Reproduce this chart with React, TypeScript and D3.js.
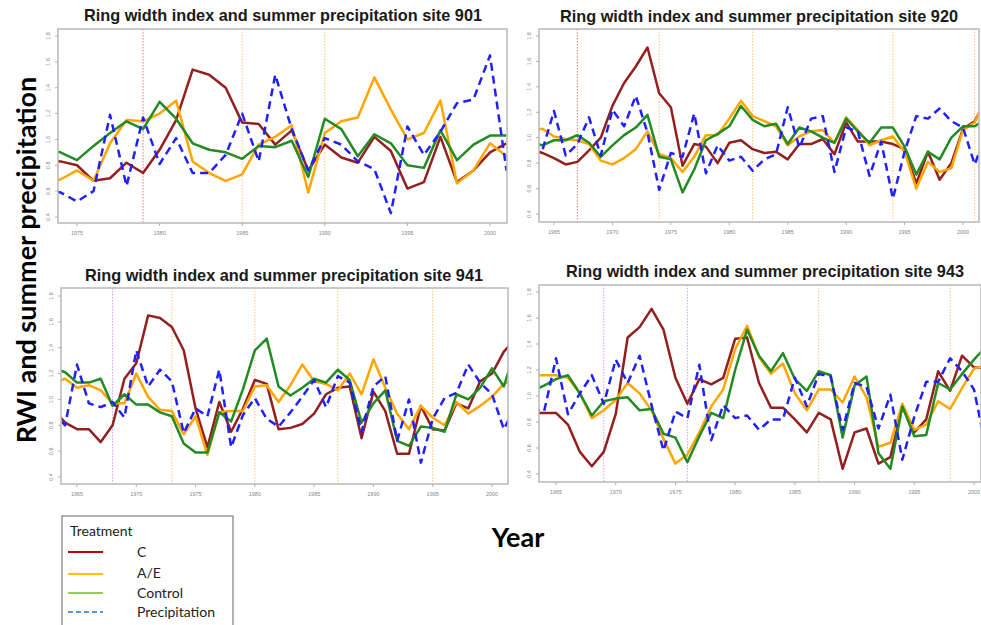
import React from "react";
import * as d3 from "d3";

// ---------- DATA ----------
const years901 = d3.range(1973, 2002);
const c901 = [0.84, 0.83, 0.80, 0.68, 0.70, 0.82, 0.74, 0.92, 1.15, 1.54, 1.50, 1.40, 1.13, 1.12, 0.96, 1.07, 0.76, 0.96, 0.86, 0.82, 1.02, 0.91, 0.62, 0.67, 1.02, 0.67, 0.76, 0.90, 0.97];
const ae901 = [0.67, 0.69, 0.76, 0.68, 0.97, 1.15, 1.14, 1.20, 1.30, 0.83, 0.74, 0.68, 0.73, 0.96, 1.02, 1.11, 0.59, 1.05, 1.14, 1.17, 1.48, 1.23, 1.00, 1.05, 1.30, 0.66, 0.76, 0.97, 0.87];
const ctrl901 = [0.92, 0.90, 0.84, 0.95, 1.05, 1.14, 1.08, 1.29, 1.16, 0.97, 0.92, 0.90, 0.85, 0.95, 0.94, 0.99, 0.71, 1.16, 1.08, 0.87, 1.04, 0.97, 0.80, 0.78, 1.07, 0.84, 0.96, 1.03, 1.03];
const prec901 = [0.62, 0.59, 0.52, 0.60, 1.19, 0.64, 1.17, 0.81, 1.01, 0.74, 0.74, 0.88, 1.20, 0.83, 1.50, 1.08, 0.76, 1.01, 0.96, 0.83, 0.77, 0.43, 1.10, 0.88, 1.06, 1.28, 1.31, 1.65, 0.76];

const years920 = d3.range(1963, 2003);
const c920 = [0.91, 0.88, 0.84, 0.79, 0.81, 0.90, 1.00, 1.25, 1.43, 1.56, 1.71, 1.35, 1.24, 0.78, 0.95, 0.93, 0.80, 0.96, 0.98, 0.91, 0.88, 0.89, 0.83, 0.95, 0.95, 0.99, 0.87, 1.12, 0.97, 0.97, 0.97, 0.95, 0.91, 0.64, 0.89, 0.67, 0.80, 1.07, 1.13, 1.30];
const ae920 = [1.06, 1.07, 1.01, 0.99, 0.98, 0.95, 0.82, 0.79, 0.84, 0.91, 1.05, 0.87, 0.84, 0.73, 0.85, 1.02, 1.02, 1.15, 1.29, 1.17, 1.13, 1.09, 0.94, 1.01, 1.05, 1.06, 0.96, 1.16, 1.06, 0.94, 0.98, 1.01, 0.89, 0.60, 0.81, 0.73, 0.76, 1.06, 1.12, 1.32];
const ctrl920 = [0.97, 0.94, 0.98, 0.98, 1.02, 0.96, 0.85, 0.94, 1.02, 1.08, 1.18, 0.85, 0.83, 0.57, 0.75, 0.98, 1.03, 1.09, 1.25, 1.14, 1.09, 1.11, 0.95, 1.08, 1.05, 1.00, 0.96, 1.15, 1.05, 0.96, 1.08, 1.08, 0.93, 0.71, 0.89, 0.83, 1.00, 1.09, 1.09, 1.15];
const prec920 = [0.90, 0.90, 1.21, 0.86, 0.95, 1.16, 0.86, 1.22, 1.09, 1.33, 1.04, 0.59, 0.88, 0.85, 1.19, 0.72, 0.94, 0.82, 0.85, 0.74, 0.83, 0.87, 1.24, 0.92, 1.15, 1.17, 0.73, 1.08, 1.05, 0.70, 0.97, 0.52, 0.89, 1.17, 1.15, 1.23, 1.13, 1.08, 0.79, 1.03];

const years941 = d3.range(1963, 2003);
const c941 = [0.92, 0.82, 0.77, 0.77, 0.67, 0.80, 1.16, 1.28, 1.65, 1.63, 1.56, 1.38, 0.93, 0.63, 0.98, 0.75, 0.93, 1.15, 1.12, 0.77, 0.78, 0.81, 0.89, 1.04, 1.09, 1.10, 0.70, 1.06, 0.91, 0.58, 0.58, 0.95, 0.77, 0.76, 0.97, 0.93, 1.14, 1.20, 1.37, 1.47];
const ae941 = [1.13, 1.16, 1.09, 1.11, 1.07, 0.97, 0.97, 1.20, 1.02, 0.92, 0.91, 0.73, 0.87, 0.57, 0.90, 0.91, 0.91, 1.10, 1.11, 0.98, 1.11, 1.27, 1.14, 1.12, 1.07, 1.20, 1.04, 1.31, 1.09, 0.89, 0.77, 0.95, 0.86, 0.80, 0.98, 0.89, 0.95, 1.02, 1.12, 1.16];
const ctrl941 = [1.24, 1.21, 1.13, 1.13, 1.16, 0.95, 1.04, 0.96, 0.96, 0.90, 0.87, 0.66, 0.59, 0.59, 0.90, 0.83, 1.08, 1.38, 1.47, 1.10, 1.03, 1.09, 1.16, 1.13, 1.23, 1.15, 0.82, 0.97, 1.07, 0.68, 0.64, 0.79, 0.78, 0.75, 1.04, 1.00, 1.09, 1.24, 1.10, 1.40];
const prec941 = [0.90, 0.80, 1.27, 0.97, 0.94, 0.98, 0.86, 1.38, 1.10, 1.23, 1.14, 0.74, 0.93, 0.87, 1.23, 0.63, 0.88, 1.01, 0.85, 0.79, 0.90, 1.02, 1.15, 0.94, 1.18, 1.13, 0.75, 1.10, 1.18, 0.68, 1.00, 0.51, 0.85, 1.01, 1.05, 1.27, 1.13, 1.04, 0.77, 0.95];

const years943 = d3.range(1963, 2002);
const c943 = [0.87, 0.87, 0.87, 0.78, 0.57, 0.46, 0.57, 0.86, 1.45, 1.53, 1.67, 1.51, 1.14, 0.94, 1.13, 1.09, 1.14, 1.44, 1.45, 1.10, 0.91, 0.91, 0.82, 0.72, 0.87, 0.82, 0.44, 0.72, 0.75, 0.48, 0.53, 0.92, 0.72, 0.82, 1.19, 1.04, 1.31, 1.22, 1.22];
const ae943 = [1.16, 1.16, 1.16, 1.14, 1.02, 0.83, 0.89, 0.97, 1.10, 1.02, 0.89, 0.67, 0.48, 0.55, 0.72, 0.92, 1.05, 1.36, 1.54, 1.30, 1.17, 1.25, 1.02, 0.89, 1.05, 1.05, 0.95, 1.15, 0.99, 0.61, 0.64, 0.94, 0.74, 0.78, 0.96, 0.90, 1.06, 1.21, 1.24];
const ctrl943 = [1.04, 1.08, 1.13, 1.16, 1.02, 0.85, 0.96, 0.98, 0.99, 0.89, 0.90, 0.71, 0.68, 0.49, 0.69, 0.87, 0.83, 1.20, 1.51, 1.31, 1.19, 1.33, 1.13, 1.04, 1.19, 1.16, 0.68, 1.08, 1.15, 0.56, 0.44, 0.92, 0.69, 0.70, 1.10, 1.05, 1.17, 1.28, 1.38];
const prec943 = [0.90, 0.88, 1.29, 0.86, 1.02, 1.16, 0.94, 1.28, 1.10, 1.31, 0.93, 0.58, 0.88, 0.83, 1.24, 0.66, 0.93, 0.83, 0.85, 0.74, 0.82, 0.82, 1.14, 0.92, 1.17, 1.15, 0.74, 1.10, 1.07, 0.75, 1.01, 0.51, 0.84, 1.11, 1.11, 1.29, 1.19, 1.05, 0.60];

const yTicks = [0.4, 0.6, 0.8, 1.0, 1.2, 1.4, 1.6, 1.8];
const xTicks901 = [1975, 1980, 1985, 1990, 1995, 2000];
const xTicksLong = [1965, 1970, 1975, 1980, 1985, 1990, 1995, 2000];

const vlines901 = [{ year: 1979, kind: "red" }, { year: 1985, kind: "orange" }, { year: 1990, kind: "orange" }];
const vlines920 = [{ year: 1967, kind: "red" }, { year: 1974, kind: "orange" }, { year: 1982, kind: "orange" }, { year: 1994, kind: "orange" }, { year: 2001, kind: "orange" }];
const vlines941 = [{ year: 1968, kind: "purple" }, { year: 1973, kind: "orange" }, { year: 1980, kind: "orange" }, { year: 1987, kind: "orange" }, { year: 1995, kind: "orange" }];
const vlines943 = [{ year: 1969, kind: "purple" }, { year: 1976, kind: "purple" }, { year: 1987, kind: "orange" }, { year: 1998, kind: "orange" }];

const legendLabels = ["C", "A/E", "Control", "Precipitation"];

// ---------- STYLE / LAYOUT ----------
const seriesColors = { c: "#931f1f", ae: "#ffa500", ctrl: "#228b22", prec: "#2020ff" };
const legendColors = ["#c00000", "#ffc000", "#92d050", "#5b9bd5"];
const vlineColors: Record<string, string> = { red: "#e07a7a", orange: "#ffc27a", purple: "#d59cff" };

const panels = [
  {
    id: "901", years: years901, c: c901, ae: ae901, ctrl: ctrl901, prec: prec901, xTicks: xTicks901, vlines: vlines901,
    box: { l: 58, r: 507, t: 29, b: 223 }, xRef: [1975, 77, 2000, 490], yRef: [36, 217], title: [283, 21],
  },
  {
    id: "920", years: years920, c: c920, ae: ae920, ctrl: ctrl920, prec: prec920, xTicks: xTicksLong, vlines: vlines920,
    box: { l: 539, r: 979, t: 29, b: 222 }, xRef: [1965, 554, 2000, 963], yRef: [36, 214], title: [759, 22],
  },
  {
    id: "941", years: years941, c: c941, ae: ae941, ctrl: ctrl941, prec: prec941, xTicks: xTicksLong, vlines: vlines941,
    box: { l: 61, r: 508, t: 288, b: 484 }, xRef: [1965, 77, 2000, 492], yRef: [296, 477], title: [284, 281],
  },
  {
    id: "943", years: years943, c: c943, ae: ae943, ctrl: ctrl943, prec: prec943, xTicks: xTicksLong, vlines: vlines943,
    box: { l: 539, r: 981, t: 285, b: 482 }, xRef: [1965, 556, 2000, 974], yRef: [292, 474], title: [765, 277],
  },
];

function Panel({ p }: { p: any }) {
  const x = d3.scaleLinear().domain([p.xRef[0], p.xRef[2]]).range([p.xRef[1], p.xRef[3]]);
  const y = d3.scaleLinear().domain([1.8, 0.4]).range(p.yRef);
  const mk = (vals: number[]) =>
    d3.line<number>().x((_, i) => x(p.years[i])).y((v) => y(v))(vals) || "";
  const clipId = "clip" + p.id;
  const { l, r, t, b } = p.box;
  return (
    <g>
      <defs>
        <clipPath id={clipId}>
          <rect x={l} y={t} width={r - l} height={b - t} />
        </clipPath>
      </defs>
      <text x={p.title[0]} y={p.title[1]} textAnchor="middle" fontFamily="Liberation Sans, Arial, sans-serif" fontWeight="bold" fontSize={16.3} fill="#1a1a1a">
        {"Ring width index and summer precipitation site " + p.id}
      </text>
      <g clipPath={`url(#${clipId})`}>
        {p.vlines.map((v: any, i: number) => (
          <line key={i} x1={x(v.year)} x2={x(v.year)} y1={t} y2={b} stroke={vlineColors[v.kind]} strokeWidth={1} strokeDasharray="1.5,1.5" />
        ))}
        <path d={mk(p.c)} fill="none" stroke={seriesColors.c} strokeWidth={2.5} strokeLinejoin="round" />
        <path d={mk(p.ae)} fill="none" stroke={seriesColors.ae} strokeWidth={2.5} strokeLinejoin="round" />
        <path d={mk(p.ctrl)} fill="none" stroke={seriesColors.ctrl} strokeWidth={2.5} strokeLinejoin="round" />
        <path d={mk(p.prec)} fill="none" stroke={seriesColors.prec} strokeWidth={2.5} strokeDasharray="8,5" strokeLinejoin="round" />
      </g>
      <rect x={l} y={t} width={r - l} height={b - t} fill="none" stroke="#b8b8b8" strokeWidth={1.5} />
      {yTicks.map((v) => (
        <g key={v}>
          <line x1={l - 3} x2={l} y1={y(v)} y2={y(v)} stroke="#b0b0b0" strokeWidth={1} />
          <text transform={`translate(${l - 8},${y(v)}) rotate(-90)`} textAnchor="middle" fontFamily="Liberation Sans, Arial, sans-serif" fontSize={5.5} fill="#888">
            {v.toFixed(1)}
          </text>
        </g>
      ))}
      {p.xTicks.map((v: number) => (
        <g key={v}>
          <line x1={x(v)} x2={x(v)} y1={b} y2={b + 3} stroke="#b0b0b0" strokeWidth={1} />
          <text x={x(v)} y={b + 12} textAnchor="middle" fontFamily="Liberation Sans, Arial, sans-serif" fontSize={5.5} fill="#888">
            {v}
          </text>
        </g>
      ))}
    </g>
  );
}

export default function App() {
  const legendY = [552, 574, 593, 612];
  const textY = [557, 578, 598, 617];
  return (
    <svg width={981} height={625} style={{ position: "absolute", left: 0, top: 0, background: "#fff" }}>
      <rect x={0} y={0} width={981} height={625} fill="#fff" />
      {panels.map((p) => (
        <Panel key={p.id} p={p} />
      ))}
      <text transform="translate(36,260) rotate(-90)" textAnchor="middle" fontFamily="Lato, sans-serif" fontWeight="bold" fontSize={27} fill="#000">
        RWI and summer precipitation
      </text>
      <text x={518} y={547} textAnchor="middle" fontFamily="Lato, sans-serif" fontWeight="bold" fontSize={27} fill="#000">
        Year
      </text>
      <rect x={62} y={516} width={171} height={120} fill="#fff" stroke="#666" strokeWidth={1} />
      <text x={70} y={536} fontFamily="Lato, sans-serif" fontSize={14} fill="#222">Treatment</text>
      {legendLabels.map((lab, i) => (
        <g key={lab}>
          <line x1={68} x2={103} y1={legendY[i]} y2={legendY[i]} stroke={legendColors[i]} strokeWidth={2.2} strokeDasharray={i === 3 ? "5,3" : undefined} />
          <text x={137} y={textY[i]} fontFamily="Lato, sans-serif" fontSize={14} fill="#222">{lab}</text>
        </g>
      ))}
    </svg>
  );
}
